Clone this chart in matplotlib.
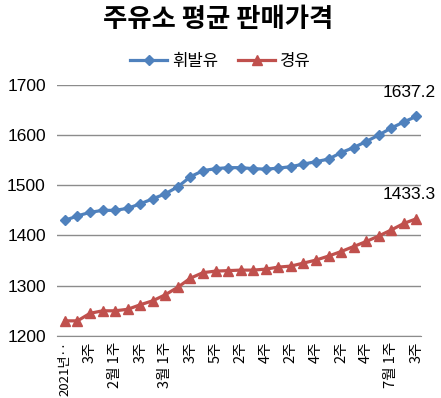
import matplotlib
matplotlib.use('Agg')
import matplotlib.pyplot as plt
import numpy as np

plt.rcParams['font.family'] = ['Noto Sans CJK KR', 'DejaVu Sans']

# weekly average price at gas stations, 2021 week 1 .. July week 3
weeks = np.arange(29)
gasoline = [1430, 1439, 1446, 1450, 1450, 1454, 1463, 1473, 1483, 1497,
            1517, 1529, 1533, 1535, 1535, 1533, 1532, 1534, 1537, 1542,
            1547, 1552, 1565, 1575, 1587, 1600, 1614, 1626, 1637.2]
diesel = [1230, 1230, 1245, 1250, 1250, 1253, 1262, 1270, 1282, 1297,
          1315, 1326, 1329, 1330, 1331, 1331, 1333, 1337, 1339, 1345,
          1351, 1359, 1368, 1378, 1388, 1399, 1411, 1424, 1433.3]
tick_pos = list(range(0, 29, 2))
tick_labels = ['2021년‥', '3주', '2월 1주', '3주', '3월 1주', '3주', '5주', '2주',
               '4주', '2주', '4주', '2주', '4주', '7월 1주', '3주']

blue = '#4F81BD'
red = '#C0504D'

fig = plt.figure(figsize=(4.41, 3.98), dpi=100)
ax = fig.add_axes([0.129, 0.156, 0.825, 0.631])

ax.plot(weeks, gasoline, color=blue, lw=2.3, marker='D', markersize=5,
        label='휘발유', zorder=3)
ax.plot(weeks, diesel, color=red, lw=2.3, marker='^', markersize=6.5,
        label='경유', zorder=3)

ax.set_ylim(1200, 1700)
ax.set_xlim(-0.64, 28.34)
ax.set_yticks([1200, 1300, 1400, 1500, 1600, 1700])
ax.set_yticklabels(['1200', '1300', '1400', '1500', '1600', '1700'],
                   family=['Liberation Sans', 'DejaVu Sans'], fontsize=12.5)
ax.set_xticks(tick_pos)
ax.set_xticklabels(tick_labels, rotation=90, fontsize=10.5)
ax.get_xticklabels()[0].set_fontsize(9.5)
ax.tick_params(axis='both', length=0, pad=4)
ax.tick_params(axis='y', pad=8)

ax.grid(axis='y', color='#8c8c8c', lw=1)
ax.set_axisbelow(True)
for s in ['top', 'right', 'left']:
    ax.spines[s].set_visible(False)
ax.spines['bottom'].set_color('#8c8c8c')

ax.annotate(f'{gasoline[-1]:.1f}', (weeks[-1], gasoline[-1]), xytext=(-5, 12),
            textcoords='offset points', ha='center', va='bottom', fontsize=12.5,
            family=['Liberation Sans', 'DejaVu Sans'])
ax.annotate(f'{diesel[-1]:.1f}', (weeks[-1], diesel[-1]), xytext=(-5, 12),
            textcoords='offset points', ha='center', va='bottom', fontsize=12.5,
            family=['Liberation Sans', 'DejaVu Sans'])

fig.text(0.495, 0.95, '주유소 평균 판매가격', ha='center', va='center',
         fontsize=19, fontweight='black')
fig.legend(loc='center', bbox_to_anchor=(0.5, 0.845), ncol=2, frameon=False,
           fontsize=12, handlelength=2.2, handletextpad=0.3, columnspacing=1.2)

fig.savefig('out.png', dpi=100)
